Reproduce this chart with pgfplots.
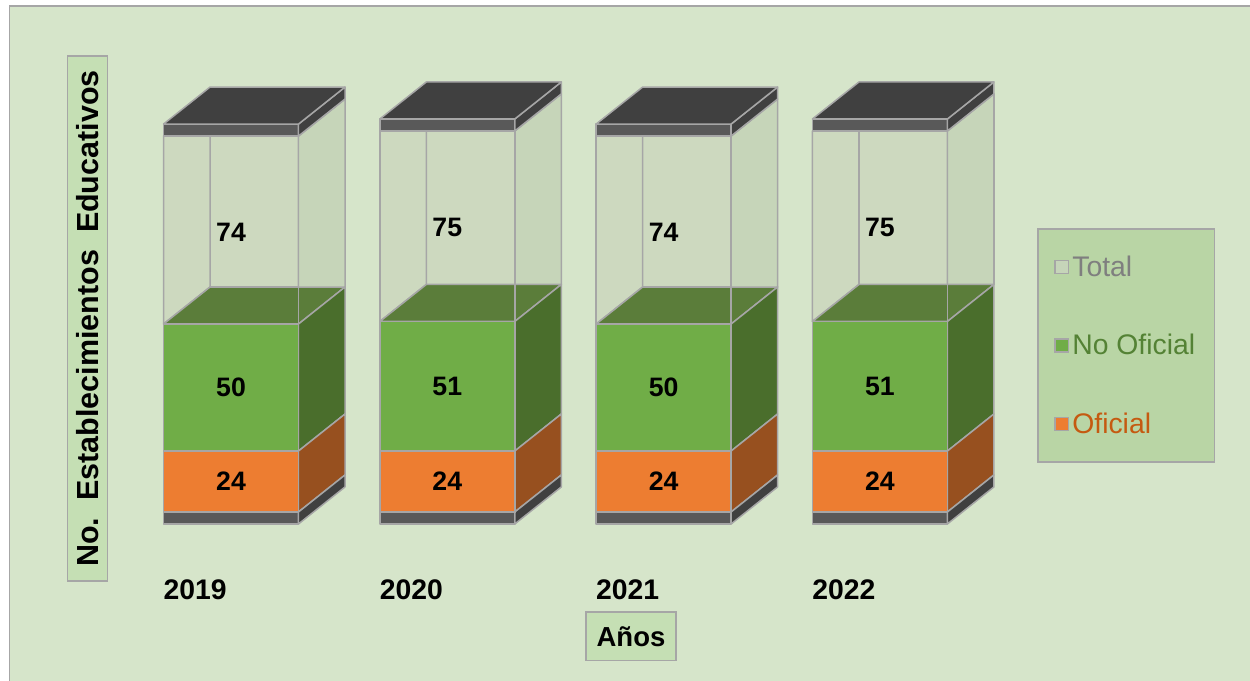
\documentclass[border=0pt]{standalone}
\usepackage{pgfplots}
\usepackage{pgfplotstable}
\usepackage{fontspec}
\setmainfont{Liberation Sans}
\pgfplotsset{compat=1.18}
\definecolor{bgc}{HTML}{D6E5CA}
\definecolor{edge}{HTML}{A6A6A6}
\definecolor{wall}{HTML}{CDD9BF}
\definecolor{wallside}{HTML}{C6D5B9}
\definecolor{gfront}{HTML}{70AD47}
\definecolor{gtop}{HTML}{5B7D3A}
\definecolor{gside}{HTML}{4A6E2C}
\definecolor{ofront}{HTML}{ED7D31}
\definecolor{oside}{HTML}{97501F}
\definecolor{plate}{HTML}{595959}
\definecolor{platetop}{HTML}{404040}
\definecolor{legbg}{HTML}{B9D5A5}
\definecolor{titlebg}{HTML}{C5DFB4}
\pgfplotstableread{
x year of nof tot ofmid nofmid totmid
0 2019 24 50 74 12 49 110.2
1 2020 24 51 75 12 49.5 112.2
2 2021 24 50 74 12 49 110.2
3 2022 24 51 75 12 49.5 112.2
}\datatable
\pgfplotsset{
  base/.style={
    scale only axis, width=750pt, height=408.6pt,
    at={(0pt,0pt)}, anchor=south west,
    xmin=-1.068, xmax=4.711, ymin=-66.54, ymax=201.57,
    axis line style={draw=none}, tick style={draw=none},
    ytick=\empty,
  },
  poly/.style={draw=edge, line width=0.9pt, line join=round, fill=#1},
  lab/.style={only marks, mark=none, point meta=explicit symbolic,
    nodes near coords={\bfseries\pgfplotspointmeta},
    every node near coord/.append style={anchor=center, inner sep=0pt, font=\fontsize{16}{18}\selectfont, text=black}},
}
% #1 bar centre; #2, #3, #4 cumulative tops of the three segments
\newcommand{\cube}[4]{%
  \addplot[poly=wall] coordinates {(#1+0.215-0.312,#3+14.57) (#1+0.215+0.312,#3+14.57) (#1+0.215+0.312,#4+14.57) (#1+0.215-0.312,#4+14.57)} -- cycle;
  \addplot[poly=wall] coordinates {(#1-0.312,#3) (#1+0.215-0.312,#3+14.57) (#1+0.215-0.312,#4+14.57) (#1-0.312,#4)} -- cycle;
  \addplot[poly=wallside] coordinates {(#1+0.312,#3) (#1+0.527,#3+14.57) (#1+0.527,#4+14.57) (#1+0.312,#4)} -- cycle;
  \addplot[poly=gtop] coordinates {(#1-0.312,#3) (#1+0.312,#3) (#1+0.527,#3+14.57) (#1+0.215-0.312,#3+14.57)} -- cycle;
  \addplot[poly=gside] coordinates {(#1+0.312,#2) (#1+0.527,#2+14.57) (#1+0.527,#3+14.57) (#1+0.312,#3)} -- cycle;
  \addplot[poly=oside] coordinates {(#1+0.312,0) (#1+0.527,14.57) (#1+0.527,#2+14.57) (#1+0.312,#2)} -- cycle;
  \addplot[poly=plate] coordinates {(#1-0.312,-4.72) (#1+0.312,-4.72) (#1+0.312,0) (#1-0.312,0)} -- cycle;
  \addplot[poly=platetop] coordinates {(#1+0.312,-4.72) (#1+0.527,9.85) (#1+0.527,14.57) (#1+0.312,0)} -- cycle;
  \addplot[poly=plate] coordinates {(#1-0.312,#4) (#1+0.312,#4) (#1+0.312,#4+4.72) (#1-0.312,#4+4.72)} -- cycle;
  \addplot[poly=platetop] coordinates {(#1+0.312,#4) (#1+0.527,#4+14.57) (#1+0.527,#4+19.29) (#1+0.312,#4+4.72)} -- cycle;
  \addplot[poly=platetop] coordinates {(#1-0.312,#4+4.72) (#1+0.312,#4+4.72) (#1+0.527,#4+19.29) (#1+0.215-0.312,#4+19.29)} -- cycle;
}
\begin{document}
\begin{tikzpicture}
\path[use as bounding box] (0pt,0pt) rectangle (750pt,408.6pt);
\clip (0pt,0pt) rectangle (750pt,408.6pt);
\draw[fill=bgc, draw=edge, line width=1pt] (5.6pt,-5pt) rectangle (760pt,405pt);
\begin{axis}[base, xtick=\empty]
\cube{0}{24}{74}{148}
\cube{1}{24}{75}{150}
\cube{2}{24}{74}{148}
\cube{3}{24}{75}{150}
\end{axis}
\begin{axis}[base,
  ybar stacked, bar width=0.624,
  xtick={0,1,2,3},
  xticklabels={2019,2020,2021,2022},
  xticklabel style={anchor=base west, xshift=-44pt, yshift=49pt, font=\fontsize{17}{18}\selectfont\bfseries},
  xlabel={Años},
  xlabel style={at={(axis description cs:0.5048,0.0655)}, anchor=center, draw=edge, line width=1pt, fill=titlebg,
    minimum width=54pt, minimum height=29pt, inner sep=0pt, font=\fontsize{16.5}{18}\selectfont\bfseries},
  ylabel={No.\ \ Establecimientos\ \ Educativos},
  ylabel style={at={(axis description cs:0.0700,0.5322)}, anchor=center, rotate=0, draw=edge, line width=1pt, fill=titlebg,
    minimum width=315pt, minimum height=24pt, inner sep=0pt, font=\fontsize{18.3}{20}\selectfont\bfseries},
  reverse legend,
  legend style={at={(axis cs:3.7278,111.8)}, anchor=north west, draw=edge, line width=1pt, fill=legbg,
    inner xsep=9.6pt, inner ysep=14pt, row sep=29.3pt,
    font=\fontsize{17}{18}\selectfont, /tikz/every even column/.append style={column sep=4.4pt}, cells={anchor=west}},
]
\addplot[fill=ofront, draw=edge, line width=0.9pt,
  legend image code/.code={\draw[fill=ofront,draw=edge,line width=0.9pt] (0pt,-4pt) rectangle (8pt,4pt);}]
  table[x=x,y=of] {\datatable};
\addlegendentry{\textcolor[HTML]{C55A11}{Oficial}}
\addplot[fill=gfront, draw=edge, line width=0.9pt,
  legend image code/.code={\draw[fill=gfront,draw=edge,line width=0.9pt] (0pt,-4pt) rectangle (8pt,4pt);}]
  table[x=x,y=nof] {\datatable};
\addlegendentry{\textcolor[HTML]{548235}{No Oficial}}
\addplot[fill=none, draw=edge, line width=0.9pt,
  legend image code/.code={\draw[fill=wallside,draw=edge,line width=0.9pt] (0pt,-4pt) rectangle (8pt,4pt);}]
  table[x=x,y=tot] {\datatable};
\addlegendentry{\textcolor[HTML]{7F7F7F}{Total}}
\end{axis}
\begin{axis}[base, xtick=\empty]
\addplot[lab] table[x=x,y=ofmid,meta=of] {\datatable};
\addplot[lab] table[x=x,y=nofmid,meta=nof] {\datatable};
\addplot[lab] table[x=x,y=totmid,meta=tot] {\datatable};
\end{axis}
\end{tikzpicture}
\end{document}
